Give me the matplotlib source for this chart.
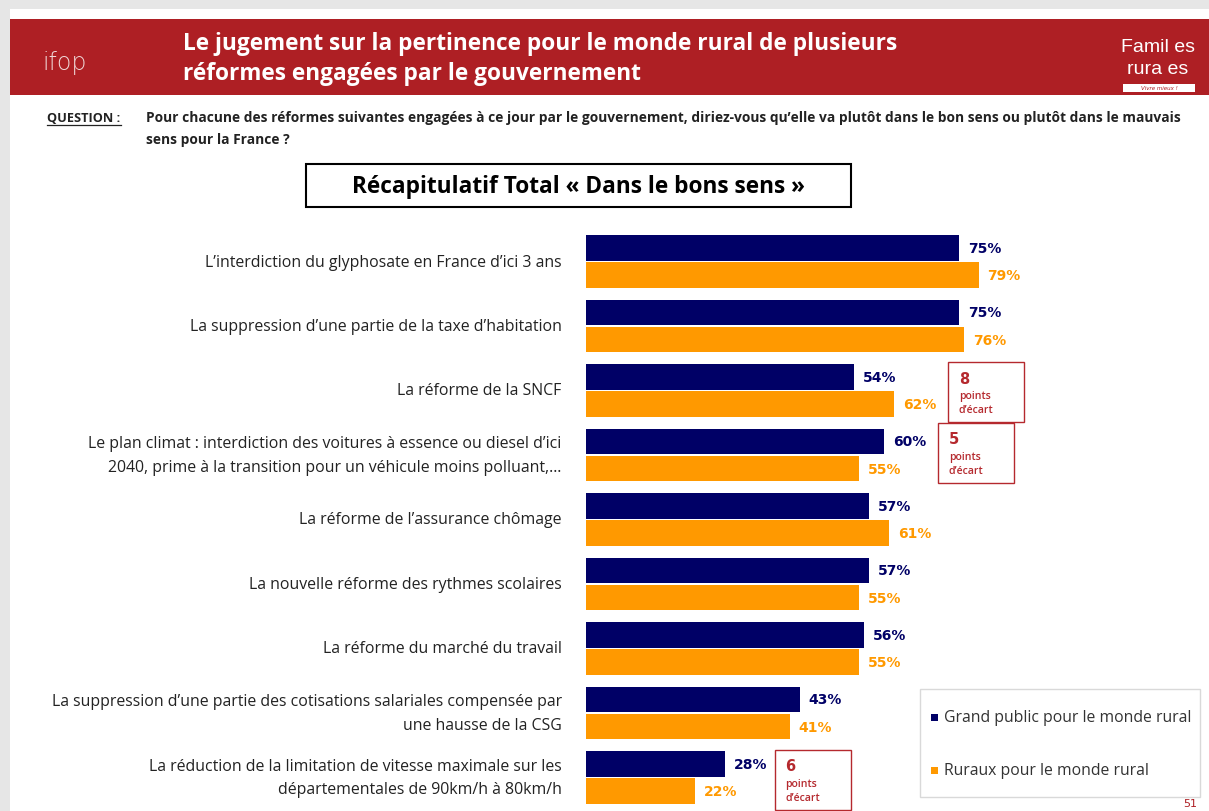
import matplotlib.pyplot as plt
from matplotlib.patches import Rectangle

# data
categories = [
    "L\u2019interdiction du glyphosate en France d\u2019ici 3 ans",
    "La suppression d\u2019une partie de la taxe d\u2019habitation",
    "La r\u00e9forme de la SNCF",
    "Le plan climat : interdiction des voitures \u00e0 essence ou diesel d\u2019ici\n2040, prime \u00e0 la transition pour un v\u00e9hicule moins polluant,\u2026",
    "La r\u00e9forme de l\u2019assurance ch\u00f4mage",
    "La nouvelle r\u00e9forme des rythmes scolaires",
    "La r\u00e9forme du march\u00e9 du travail",
    "La suppression d\u2019une partie des cotisations salariales compens\u00e9e par\nune hausse de la CSG",
    "La r\u00e9duction de la limitation de vitesse maximale sur les\nd\u00e9partementales de 90km/h \u00e0 80km/h",
]
grand_public = [75, 75, 54, 60, 57, 57, 56, 43, 28]
ruraux = [79, 76, 62, 55, 61, 55, 55, 41, 22]
series_names = ["Grand public pour le monde rural", "Ruraux pour le monde rural"]
ecart_rows = [2, 3, 8]
ecart_values = [8, 5, 6]

NAVY = "#000066"
ORANGE = "#FF9900"
RED = "#AE1F24"
BOXRED = "#B5292E"
W, H = 1209, 812

fig = plt.figure(figsize=(W / 100, H / 100), dpi=100)
fig.patch.set_facecolor("white")

def px(x, y):
    return x / W, 1 - y / H

# grey frame round the slide
fig.patches.append(Rectangle((0, 0), 10 / W, 1, transform=fig.transFigure,
                             facecolor="#E6E6E6", edgecolor="none", zorder=1))
fig.patches.append(Rectangle(px(0, 10), 1, 10 / H, transform=fig.transFigure,
                             facecolor="#E6E6E6", edgecolor="none", zorder=1))
# banner
fig.patches.append(Rectangle(px(10, 96), (W - 10) / W, 76 / H,
                             transform=fig.transFigure, facecolor=RED, edgecolor="none", zorder=1))

fig.text(*px(183, 44), "Le jugement sur la pertinence pour le monde rural de plusieurs",
         color="white", fontsize=16.3, fontweight="bold", family="Open Sans", va="center", ha="left")
fig.text(*px(183, 74), "r\u00e9formes engag\u00e9es par le gouvernement",
         color="white", fontsize=16.3, fontweight="bold", family="Open Sans", va="center", ha="left")
fig.text(*px(42, 63), "ifop", color="#F0D8D8", fontsize=17, family="DejaVu Sans",
         fontweight="light", va="center", ha="left")
fig.text(*px(1158, 47), "Famil\u00a0es", color="white", fontsize=14, family="Liberation Sans",
         va="center", ha="center")
fig.text(*px(1158, 70), "rura\u00a0es", color="white", fontsize=14, family="Liberation Sans",
         va="center", ha="center")
fig.patches.append(Rectangle(px(1123, 93), 72 / W, 8 / H, transform=fig.transFigure,
                             facecolor="white", edgecolor="none", zorder=2))
fig.text(*px(1159, 89), "Vivre mieux !", color=RED, fontsize=4, style="italic",
         va="center", ha="center", zorder=3)

# question
fig.text(*px(47, 118), "QUESTION :", fontsize=9.2, fontweight="bold", family="Open Sans",
         va="center", ha="left", color="#222222")
fig.text(*px(146, 118), "Pour chacune des r\u00e9formes suivantes engag\u00e9es \u00e0 ce jour par le gouvernement, "
         "diriez-vous qu\u2019elle va plut\u00f4t dans le bon sens ou plut\u00f4t dans le mauvais",
         fontsize=9.9, fontweight="bold", family="Open Sans", va="center", ha="left", color="#222222")
fig.text(*px(146, 140), "sens pour la France ?", fontsize=9.9, fontweight="bold", family="Open Sans",
         va="center", ha="left", color="#222222")
fig.lines.append(plt.Line2D([47 / W, 121 / W], [1 - 126 / H] * 2, transform=fig.transFigure,
                            color="#222222", lw=0.9))

# box title
fig.patches.append(Rectangle(px(306, 208), 545 / W, 43 / H, transform=fig.transFigure,
                             facecolor="white", edgecolor="black", lw=1.5, zorder=2))
fig.text(*px(578, 187), "R\u00e9capitulatif Total \u00ab Dans le bons sens \u00bb", fontsize=16.3,
         fontweight="bold", family="Open Sans", va="center", ha="center", zorder=3)

# bars
ax = fig.add_axes([586 / W, 0, 497 / W, (812 - 230) / H])
ax.set_zorder(5)
ax.patch.set_alpha(0)
ax.set_xlim(0, 100)
ax.set_ylim(8.52, -0.504)
ax.axis("off")

pos = list(range(len(categories)))
bh = 0.40
off = 0.21
ax.barh([p - off for p in pos], grand_public, height=bh, color=NAVY)
ax.barh([p + off for p in pos], ruraux, height=bh, color=ORANGE)

for i, p in enumerate(pos):
    ax.text(grand_public[i] + 1.8, p - off, f"{grand_public[i]}%", color=NAVY, fontsize=10,
            fontweight="bold", family="DejaVu Sans", va="center", ha="left")
    ax.text(ruraux[i] + 1.8, p + off, f"{ruraux[i]}%", color=ORANGE, fontsize=10,
            fontweight="bold", family="DejaVu Sans", va="center", ha="left")
    ax.text(-4.9, p, categories[i], fontsize=11.4, family="Open Sans", va="center", ha="right",
            color="#222222", linespacing=1.65)

# ecart boxes
for r, v in zip(ecart_rows, ecart_values):
    end = max(grand_public[r], ruraux[r])
    x0 = end + (10.0 if r == 8 else 10.9)
    y0 = r - (0.43 if r == 8 else (0.5 if r == 3 else 0.44))
    ax.add_patch(Rectangle((x0, y0), 15.3, 0.93, facecolor="white", edgecolor=BOXRED,
                           lw=1.0, clip_on=False, zorder=3))
    ax.text(x0 + 2.1, y0 + 0.25, str(v), color=BOXRED, fontsize=10.5, fontweight="bold",
            family="DejaVu Sans", va="center", ha="left", zorder=4)
    ax.text(x0 + 2.1, y0 + 0.52, "points", color=BOXRED, fontsize=7.6, fontweight="semibold",
            family="Open Sans", va="center", ha="left", zorder=4)
    ax.text(x0 + 2.1, y0 + 0.74, "d\u2019\u00e9cart", color=BOXRED, fontsize=7.6, fontweight="semibold",
            family="Open Sans", va="center", ha="left", zorder=4)

# legend
fig.patches.append(Rectangle(px(920, 798), 280 / W, 108 / H, transform=fig.transFigure,
                             facecolor="white", edgecolor="#D9D9D9", lw=1.0, zorder=2))
for k, (name, col) in enumerate(zip(series_names, [NAVY, ORANGE])):
    yy = 718 + k * 53
    fig.patches.append(Rectangle(px(931, yy + 4), 7 / W, 7 / H, transform=fig.transFigure,
                                 facecolor=col, edgecolor="none", zorder=3))
    fig.text(*px(944, yy), name, fontsize=11.3, family="Open Sans", va="center", ha="left",
             color="#333333", zorder=3)

fig.text(*px(1190, 804), "51", color=RED, fontsize=8, va="center", ha="center")

fig.savefig("out.png", dpi=100, facecolor=fig.get_facecolor())
